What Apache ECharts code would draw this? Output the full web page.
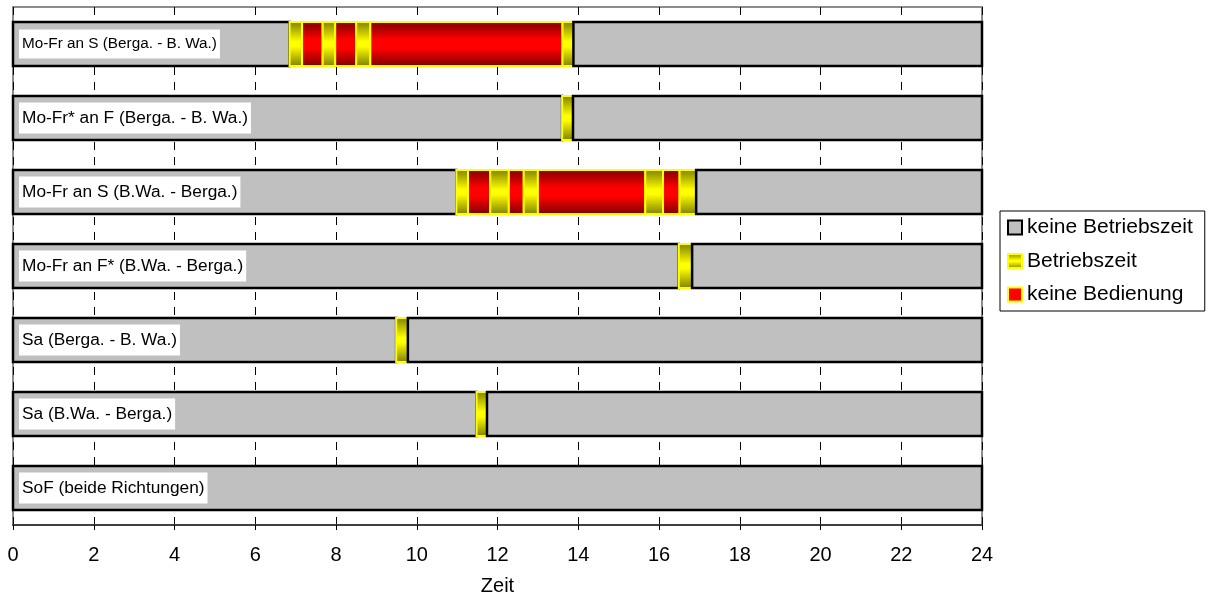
<!DOCTYPE html>
<html>
<head>
<meta charset="utf-8">
<script src="https://cdn.jsdelivr.net/npm/echarts@6/dist/echarts.min.js"></script>
<style>html,body{margin:0;padding:0;background:#fff}#c{width:1216px;height:601px}</style>
</head>
<body>
<div id="c"></div>
<script>
// ---- data ----
const categories = [
  'Mo-Fr an S (Berga. - B. Wa.)',
  'Mo-Fr* an F (Berga. - B. Wa.)',
  'Mo-Fr an S (B.Wa. - Berga.)',
  'Mo-Fr an F* (B.Wa. - Berga.)',
  'Sa (Berga. - B. Wa.)',
  'Sa (B.Wa. - Berga.)',
  'SoF (beide Richtungen)'
];
const seriesNames = ['keine Betriebszeit', 'Betriebszeit', 'keine Bedienung'];
// change times (hours) per row, and segment type between them (0 = keine Betriebszeit, 1 = Betriebszeit, 2 = keine Bedienung)
const row1Times = [0, 6.85, 7.16, 7.67, 7.98, 8.50, 8.85, 13.61, 13.88, 24];
const row1Types = [0, 1, 2, 1, 2, 1, 2, 1, 0];
const row2Times = [0, 13.60, 13.87, 24];
const row2Types = [0, 1, 0];
const row3Times = [0, 10.98, 11.27, 11.82, 12.28, 12.65, 13.00, 15.66, 16.10, 16.51, 16.92, 24];
const row3Types = [0, 1, 2, 1, 2, 1, 2, 1, 2, 1, 0];
const row4Times = [0, 16.49, 16.82, 24];
const row4Types = [0, 1, 0];
const row5Times = [0, 9.49, 9.78, 24];
const row5Types = [0, 1, 0];
const row6Times = [0, 11.48, 11.74, 24];
const row6Types = [0, 1, 0];
const row7Times = [0, 24];
const row7Types = [0];
const xMin = 0, xMax = 24, xStep = 2;

const rowTimes = [row1Times, row2Times, row3Times, row4Times, row5Times, row6Times, row7Times];
const rowTypes = [row1Types, row2Types, row3Types, row4Types, row5Types, row6Types, row7Types];

// build per-type data: [rowIndex, start, end, order]
const typeData = [[], [], []];
rowTimes.forEach((times, r) => {
  rowTypes[r].forEach((t, k) => {
    typeData[t].push([r, times[k], times[k + 1], k]);
  });
});

const LG = echarts.graphic.LinearGradient;
const yellowFill = () => new LG(0, 0, 0, 1, [
  {offset: 0, color: '#7c7c00'}, {offset: 0.45, color: '#ffff00'},
  {offset: 0.55, color: '#ffff00'}, {offset: 1, color: '#7c7c00'}]);
const redFill = () => new LG(0, 0, 0, 1, [
  {offset: 0, color: '#780000'}, {offset: 0.4, color: '#ff0000'},
  {offset: 0.6, color: '#ff0000'}, {offset: 1, color: '#780000'}]);

const styles = [
  {fill: '#c0c0c0', stroke: '#000000', lineWidth: 2.5},
  {fill: yellowFill(), stroke: '#ffff00', lineWidth: 2},
  {fill: redFill(), stroke: '#ffff00', lineWidth: 2}
];

function makeRender(t) {
  return function (params, api) {
    const cat = api.value(0);
    const p0 = api.coord([api.value(1), cat]);
    const p1 = api.coord([api.value(2), cat]);
    const h = api.size([0, 1])[1] * 0.595;
    return {
      type: 'rect',
      z2: api.value(3),
      shape: {x: p0[0], y: p0[1] - h / 2, width: p1[0] - p0[0], height: h},
      style: styles[t]
    };
  };
}

const FONT = 'Liberation Sans, Arial, sans-serif';
const chart = echarts.init(document.getElementById('c'), null, {renderer: 'canvas'});
chart.setOption({
  animation: false,
  backgroundColor: '#ffffff',
  textStyle: {fontFamily: FONT},
  grid: {left: 13, right: 234, top: 7, bottom: 76, show: true, borderColor: '#8c8c8c', borderWidth: 2},
  xAxis: {
    type: 'value', min: xMin, max: xMax, interval: xStep,
    name: 'Zeit', nameLocation: 'middle', nameGap: 51,
    nameTextStyle: {fontSize: 20, color: '#000', fontFamily: FONT},
    axisLine: {show: true, lineStyle: {color: '#404040', width: 2}},
    axisTick: {show: true, length: 5, lineStyle: {color: '#000', width: 1}},
    axisLabel: {fontSize: 20, color: '#000', margin: 20, fontFamily: FONT},
    splitLine: {show: true, lineStyle: {color: '#000', width: 1, type: [8, 7]}}
  },
  yAxis: {
    type: 'category', inverse: true, z: 10,
    data: categories.map((c, i) => i === 0
      ? {value: c, textStyle: {fontSize: 15.3, lineHeight: 19}}
      : {value: c}),
    axisLine: {show: false}, axisTick: {show: false}, splitLine: {show: false},
    axisLabel: {
      inside: true, margin: 6, color: '#000', fontSize: 17.3, lineHeight: 21,
      fontFamily: FONT, backgroundColor: '#ffffff', padding: [5, 3, 5, 3]
    }
  },
  legend: {
    orient: 'vertical', left: 1000, top: 211,
    padding: [6, 12, 6, 7], itemGap: 12.5, itemWidth: 14, itemHeight: 14,
    borderColor: '#000', borderWidth: 1, backgroundColor: '#fff',
    textStyle: {fontSize: 21, color: '#000', fontFamily: FONT, lineHeight: 21},
    data: [
      {name: seriesNames[0], icon: 'rect', itemStyle: {color: '#c0c0c0', borderColor: '#000', borderWidth: 2}},
      {name: seriesNames[1], icon: 'rect', itemStyle: {color: yellowFill(), borderColor: '#ffff00', borderWidth: 2}},
      {name: seriesNames[2], icon: 'rect', itemStyle: {color: '#ff0000', borderColor: '#ffff00', borderWidth: 2}}
    ]
  },
  series: seriesNames.map((n, t) => ({
    name: n, type: 'custom', renderItem: makeRender(t),
    encode: {x: [1, 2], y: 0},
    itemStyle: {color: t === 0 ? '#c0c0c0' : (t === 1 ? '#ffff00' : '#ff0000')},
    data: typeData[t]
  }))
});
</script>
</body>
</html>
